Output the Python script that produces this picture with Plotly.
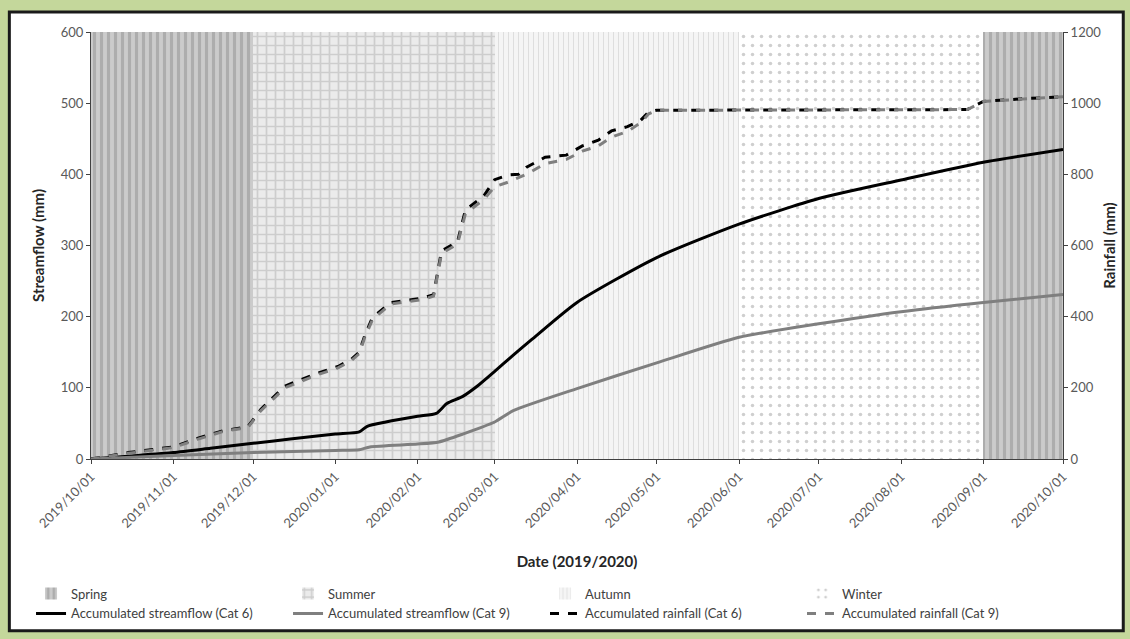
import plotly.graph_objects as go
import pandas as pd

# seasons (start, end)
season_names = ["Spring", "Summer", "Autumn", "Winter"]
season_starts = [["2019-10-01", "2020-09-01"], ["2019-12-01"], ["2020-03-01"], ["2020-06-01"]]
season_ends = [["2019-12-01", "2020-10-01"], ["2020-03-01"], ["2020-06-01"], ["2020-09-01"]]

# accumulated streamflow (mm)
flow_dates_6 = ["2019-10-01", "2019-10-15", "2019-11-01", "2019-11-15", "2019-12-01", "2019-12-15",
                "2020-01-01", "2020-01-10", "2020-01-13", "2020-01-20", "2020-02-01", "2020-02-08",
                "2020-02-12", "2020-02-18", "2020-02-24", "2020-03-01", "2020-03-08", "2020-03-15",
                "2020-04-01", "2020-05-01", "2020-06-01", "2020-07-01", "2020-08-01", "2020-09-01",
                "2020-10-01"]
flow_cat6 = [0, 4, 9, 15, 22, 28, 35, 38, 46, 52, 60, 64, 78, 88, 104, 123, 146, 168,
             220, 283, 330, 366, 392, 417, 435]

flow_dates_9 = ["2019-10-01", "2019-11-01", "2019-12-01", "2020-01-01", "2020-01-10", "2020-01-14",
                "2020-02-01", "2020-02-09", "2020-02-18", "2020-03-01", "2020-03-08", "2020-04-01",
                "2020-05-01", "2020-06-01", "2020-07-01", "2020-08-01", "2020-09-01", "2020-10-01"]
flow_cat9 = [0, 5, 9, 12, 13, 17, 21, 24, 35, 52, 68, 99, 135, 171, 190, 207, 220, 231]

# accumulated rainfall (mm)
rain_dates = ["2019-10-01", "2019-10-15", "2019-11-01", "2019-11-10", "2019-11-20", "2019-11-29",
              "2019-12-04", "2019-12-09", "2019-12-13", "2019-12-25", "2020-01-02", "2020-01-07",
              "2020-01-10", "2020-01-12", "2020-01-15", "2020-01-22", "2020-02-03", "2020-02-07",
              "2020-02-10", "2020-02-16", "2020-02-19", "2020-02-26", "2020-03-01", "2020-03-06",
              "2020-03-10", "2020-03-13", "2020-03-20", "2020-03-28", "2020-04-03", "2020-04-09",
              "2020-04-14", "2020-04-20", "2020-04-25", "2020-04-28", "2020-05-01", "2020-08-26",
              "2020-09-01", "2020-09-15", "2020-10-01"]
rain_cat6 = [0, 18, 34, 58, 80, 90, 140, 175, 205, 240, 260, 280, 300, 345, 398, 440, 452, 462,
             585, 610, 700, 740, 785, 798, 800, 820, 848, 854, 880, 896, 922, 934, 952, 975, 980,
             982, 1005, 1012, 1018]
rain_cat9 = [0, 16, 32, 55, 78, 88, 136, 172, 200, 236, 256, 276, 296, 340, 392, 436, 448, 458,
             578, 604, 690, 730, 765, 778, 790, 800, 830, 842, 865, 880, 905, 920, 945, 970, 980,
             982, 1005, 1012, 1018]

y_left_max = 600
y_right_max = 1200

patterns = [
    dict(color="#cbcbcb", pattern=dict(shape="|", fgcolor="#8f8f8f", size=7, solidity=0.45)),
    dict(color="#ebebeb", pattern=dict(shape="+", fgcolor="#b0b0b0", size=9, solidity=0.35)),
    dict(color="#f5f5f5", pattern=dict(shape="|", fgcolor="#c8c8c8", size=5, solidity=0.2)),
    dict(color="#ffffff", pattern=dict(shape=".", fgcolor="#a0a0a0", size=9, solidity=0.12)),
]

fig = go.Figure()

for name, starts, ends, mk in zip(season_names, season_starts, season_ends, patterns):
    s = pd.to_datetime(starts)
    e = pd.to_datetime(ends)
    widths = [(b - a).total_seconds() * 1000 for a, b in zip(s, e)]
    fig.add_trace(go.Bar(
        x=starts, y=[y_left_max] * len(starts), width=widths, offset=0, name=name,
        marker=dict(color=mk["color"], pattern=mk["pattern"], line=dict(width=0)),
        hoverinfo="skip"))

fig.add_trace(go.Scatter(x=flow_dates_6, y=flow_cat6, mode="lines",
                         name="Accumulated streamflow (Cat 6)",
                         line=dict(color="black", width=3, shape="spline", smoothing=0.6)))
fig.add_trace(go.Scatter(x=flow_dates_9, y=flow_cat9, mode="lines",
                         name="Accumulated streamflow (Cat 9)",
                         line=dict(color="#7f7f7f", width=3, shape="spline", smoothing=0.6)))
fig.add_trace(go.Scatter(x=rain_dates, y=rain_cat6, mode="lines", yaxis="y2",
                         name="Accumulated rainfall (Cat 6)",
                         line=dict(color="black", width=3, dash="dash")))
fig.add_trace(go.Scatter(x=rain_dates, y=rain_cat9, mode="lines", yaxis="y2",
                         name="Accumulated rainfall (Cat 9)",
                         line=dict(color="#7f7f7f", width=3, dash="dash")))

tick_font = dict(family="Lato, Liberation Sans, sans-serif", size=13, color="#595959")
title_font = dict(family="Lato, Liberation Sans, sans-serif", size=15, color="#262626")

fig.update_layout(
    width=1130, height=639,
    margin=dict(l=91, r=67, t=32, b=180, autoexpand=False),
    paper_bgcolor="#c4d79b",
    plot_bgcolor="white",
    barmode="overlay", bargap=0,
    font=dict(family="Lato, Liberation Sans, sans-serif"),
    xaxis=dict(
        type="date", range=["2019-10-01", "2020-10-01"], automargin=False,
        dtick="M1", tick0="2019-10-01", tickformat="%Y/%m/%d", tickangle=-45,
        tickfont=tick_font, showgrid=False, showline=True, linecolor="#404040",
        ticks="outside", ticklen=4, tickcolor="#404040",
        title=dict(text="<b>Date (2019/2020)</b>", font=title_font, standoff=26),
    ),
    yaxis=dict(
        range=[0, y_left_max], dtick=100, tickfont=tick_font, showgrid=False,
        showline=True, linecolor="#404040", ticks="outside", ticklen=4, tickcolor="#404040",
        zeroline=False, automargin=False,
        title=dict(text="<b>Streamflow (mm)</b>", font=title_font, standoff=12),
    ),
    yaxis2=dict(
        overlaying="y", side="right", range=[0, y_right_max], dtick=200,
        tickfont=tick_font, showgrid=False, showline=True, linecolor="#404040",
        ticks="outside", ticklen=4, tickcolor="#404040", zeroline=False, automargin=False,
        title=dict(text="<b>Rainfall (mm)</b>", font=title_font, standoff=4),
    ),
    legend=dict(
        orientation="h", x=-0.0617, xanchor="left", y=-0.28, yanchor="top",
        entrywidth=212, font=dict(size=13, color="#404040"),
        bgcolor="rgba(0,0,0,0)", traceorder="normal", tracegroupgap=0,
    ),
    shapes=[dict(type="rect", xref="paper", yref="paper", x0=-0.084, x1=1.062,
                 y0=-0.402, y1=1.047, line=dict(color="#1a1a1a", width=3),
                 fillcolor="white", layer="below")],
)

fig.write_html("out.html", config={"displayModeBar": False},
               post_script="document.body.style.margin='0';"
                           "document.body.style.background='#c4d79b';")
